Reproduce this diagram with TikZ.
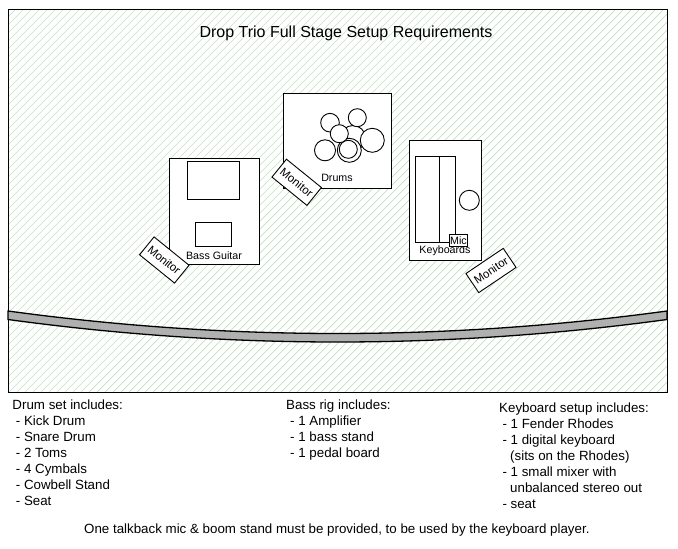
\documentclass[tikz,border=0pt]{standalone}
\usepackage{fontspec}
\setmainfont{Liberation Sans}
\usepackage{xcolor}
\definecolor{hatchgreen}{HTML}{BFE3BF}
\definecolor{stagegray}{HTML}{B0B0B0}
\tikzset{
    gear/.style={draw=black, fill=white, line width=0.9pt},
    monitorbox/.style={draw=black, fill=white, line width=0.9pt, minimum width=45pt, minimum height=23pt, inner sep=0pt, font=\fontsize{11.5pt}{12pt}\selectfont},
    boxlabel/.style={inner sep=0pt, font=\fontsize{10.67pt}{12pt}\selectfont},
    listtext/.style={anchor=base west, inner sep=0pt, font=\fontsize{13.33pt}{16pt}\selectfont}
}

\begin{document}
\begin{tikzpicture}[x=1pt, y=-1pt]
    \useasboundingbox (0,0) rectangle (678,549);

    % stage area
    \fill[white] (8,9) rectangle (667,392);
    \begin{scope}
        \clip (8,9) rectangle (667,392);
        \foreach \hatchpos in {17,25,...,1065} {
            \draw[hatchgreen, line width=0.7pt] (\hatchpos,0) -- (0,\hatchpos);
        }
    \end{scope}
    \draw[line width=1pt] (8,9) rectangle (667,392);

    \node[anchor=base, inner sep=0pt, font=\fontsize{16pt}{18pt}\selectfont] (title) at (346,37) {Drop Trio Full Stage Setup Requirements};

    % drums
    \draw[gear] (283.5,93) rectangle (391,188);
    \draw[gear] (353,138) circle (12.5);
    \draw[gear] (349.3,150.3) circle (12);
    \draw[gear] (348.3,149.3) circle (9);
    \draw[gear] (330,122.7) circle (9.3);
    \draw[gear] (357.3,117.7) circle (9);
    \draw[gear] (339.3,133.7) circle (9);
    \draw[gear] (372.3,140.3) circle (12);
    \draw[gear] (325,150.3) circle (10.5);
    \node[boxlabel] (drumslabel) at (337,178) {Drums};
    \node[monitorbox, rotate=-39] (drummonitor) at (296.7,182.3) {Monitor};

    % bass
    \draw[gear] (169.5,158.5) rectangle (259.5,264);
    \draw[gear] (187.5,161.5) rectangle (239.5,199.5);
    \draw[gear] (195.5,222.5) rectangle (231.5,246.5);
    \node[boxlabel] (basslabel) at (214,255.5) {Bass Guitar};
    \node[monitorbox, rotate=-39] (bassmonitor) at (164.3,260) {Monitor};

    % keyboards
    \draw[gear] (409.5,140.5) rectangle (481.5,260);
    \draw[gear] (415.5,156.5) rectangle (439.5,242.5);
    \draw[gear] (439.5,156.5) rectangle (455.5,242.5);
    \draw[gear] (469.3,200.3) circle (10);
    \node[boxlabel] (keyslabel) at (445,251) {Keyboards};
    \node[gear, boxlabel, minimum width=18pt, minimum height=12pt] (mic) at (458.5,240.3) {Mic};
    \node[monitorbox, rotate=34] (keysmonitor) at (491,270.5) {Monitor};

    % stage front
    \draw[fill=stagegray, line width=1.3pt] (8,311) .. controls (228,341) and (447,341) .. (667,311) -- (667,319.5) .. controls (447,349.5) and (228,349.5) .. (8,319.5) -- cycle;

    \node[listtext] (drumhead) at (12.3,409.7) {Drum set includes:};
    \node[listtext] (drumkick) at (15.7,425.7) {- Kick Drum};
    \node[listtext] (drumsnare) at (15.7,441.7) {- Snare Drum};
    \node[listtext] (drumtoms) at (15.7,457.7) {- 2 Toms};
    \node[listtext] (drumcymbals) at (15.7,473.7) {- 4 Cymbals};
    \node[listtext] (drumcowbell) at (15.7,489.7) {- Cowbell Stand};
    \node[listtext] (drumseat) at (15.7,505.7) {- Seat};

    \node[listtext] (basshead) at (286,409.7) {Bass rig includes:};
    \node[listtext] (bassamp) at (290,425.7) {- 1 Amplifier};
    \node[listtext] (bassstand) at (290,441.7) {- 1 bass stand};
    \node[listtext] (basspedal) at (290,457.7) {- 1 pedal board};

    \node[listtext] (keyshead) at (499,412.7) {Keyboard setup includes:};
    \node[listtext] (keysrhodes) at (502.3,428.7) {- 1 Fender Rhodes};
    \node[listtext] (keysdigital) at (502.3,444.7) {- 1 digital keyboard};
    \node[listtext] (keyssits) at (510,460.7) {(sits on the Rhodes)};
    \node[listtext] (keysmixer) at (502.3,476.7) {- 1 small mixer with};
    \node[listtext] (keysstereo) at (510,492.7) {unbalanced stereo out};
    \node[listtext] (keysseat) at (502.3,508.7) {- seat};

    \node[listtext] (talkback) at (84,533.7) {One talkback mic \& boom stand must be provided, to be used by the keyboard player.};
\end{tikzpicture}
\end{document}
